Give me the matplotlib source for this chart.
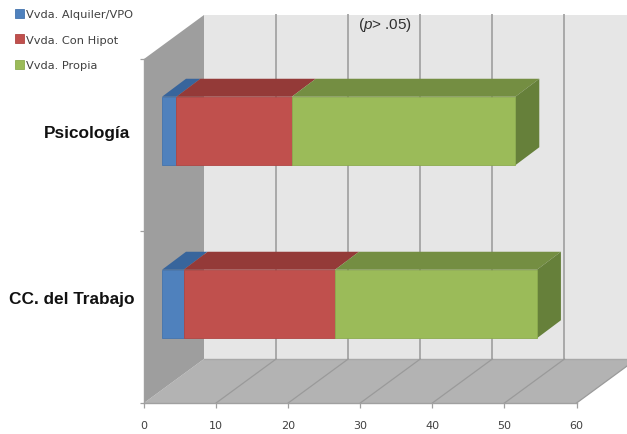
import matplotlib
matplotlib.use("Agg")
import matplotlib.pyplot as plt
from matplotlib.patches import Polygon
import matplotlib.transforms as mtrans
import numpy as np

categories = ["CC. del Trabajo", "Psicología"]
series_names = ["Vvda. Alquiler/VPO", "Vvda. Con Hipot", "Vvda. Propia"]
alquiler = [3, 2]
hipot = [21, 16]
propia = [28, 31]
x_ticks = [0, 10, 20, 30, 40, 50, 60]

front_colors = ["#4F81BD", "#C0504D", "#9BBB59"]
top_colors = ["#38659C", "#943A38", "#748E42"]
edge_colors = ["#4474AE", "#B04643", "#8CAC4E"]
side_color = "#66803A"

W, H = 627, 435
PX_X = 7.21   # pixels per value unit
PX_Y = 173.0  # pixels per category step
X0_PX, Y0_PX = 144, 305

plt.rcParams["mathtext.fontset"] = "custom"
plt.rcParams["mathtext.it"] = "Liberation Sans:italic"
plt.rcParams["mathtext.rm"] = "Liberation Sans"

fig = plt.figure(figsize=(W / 100, H / 100), dpi=100, facecolor="white")
ax = fig.add_axes([0, 0, 1, 1], facecolor="white")
ax.set_xlim(-X0_PX / PX_X, (W - X0_PX) / PX_X)
ax.set_ylim((Y0_PX - H) / PX_Y, Y0_PX / PX_Y)

# scene geometry, in data units
y_floor = (Y0_PX - 404) / PX_Y
y_top = (Y0_PX - 60) / PX_Y
dx, dy = 60 / PX_X, 44 / PX_Y          # wall depth
bdx, bdy = 24 / PX_X, 18 / PX_Y        # bar depth
bar_start = 18 / PX_X                  # bar gap from the front plane
bar_h = 68.5 / PX_Y
xmax = x_ticks[-1]

# back wall, floor, side wall
ax.add_patch(Polygon([(dx, y_floor + dy), (xmax + dx, y_floor + dy),
                      (xmax + dx, y_top + dy), (dx, y_top + dy)],
                     fc="#E6E6E6", ec="none", zorder=1))
ax.add_patch(Polygon([(0, y_floor), (xmax, y_floor), (xmax + dx, y_floor + dy), (dx, y_floor + dy)],
                     fc="#B3B3B3", ec="none", zorder=1))
ax.add_patch(Polygon([(0, y_floor), (dx, y_floor + dy), (dx, y_top + dy), (0, y_top)],
                     fc="#9E9E9E", ec="none", zorder=1))
ax.plot([dx, xmax + dx], [y_floor + dy] * 2, color="#A8A8A8", lw=1.0, zorder=2)

# grid on wall and floor
for v in x_ticks[1:]:
    ax.plot([v + dx, v + dx], [y_floor + dy, y_top + dy], color="#A9A9A9", lw=1.4, zorder=2)
    ax.plot([v, v + dx], [y_floor, y_floor + dy], color="#9A9A9A", lw=0.9, zorder=2)

# bars
y = np.arange(len(categories))
cum = np.zeros(len(categories)) + bar_start
handles = []
for vals, name, fc, tc, ec in zip([alquiler, hipot, propia], series_names,
                                  front_colors, top_colors, edge_colors):
    vals = np.array(vals, dtype=float)
    c = ax.barh(y, vals, left=cum, height=bar_h, color=fc, edgecolor=ec,
                linewidth=0.6, label=name, zorder=4)
    handles.append(c)
    for yi, l, v in zip(y, cum, vals):
        t = yi + bar_h / 2
        ax.add_patch(Polygon([(l, t), (l + v, t), (l + v + bdx, t + bdy), (l + bdx, t + bdy)],
                             fc=tc, ec="none", zorder=3))
    cum = cum + vals
for yi, r in zip(y, cum):
    t, b = yi + bar_h / 2, yi - bar_h / 2
    ax.add_patch(Polygon([(r, b), (r + bdx, b + bdy), (r + bdx, t + bdy), (r, t)],
                         fc=side_color, ec="none", zorder=3))

# axes
for s in ["top", "right"]:
    ax.spines[s].set_visible(False)
ax.spines["bottom"].set_position(("data", y_floor))
ax.spines["bottom"].set_bounds(0, xmax)
ax.spines["left"].set_position(("data", 0))
ax.spines["left"].set_bounds(y_floor, y_top)
for s in ["bottom", "left"]:
    ax.spines[s].set_color("#A0A0A0")
    ax.spines[s].set_linewidth(1.0)
    ax.spines[s].set_zorder(2.5)
ax.set_xticks(x_ticks)
ax.tick_params(axis="x", length=3.5, width=0.9, color="#A0A0A0", labelcolor="#404040",
               labelsize=8, pad=8.5)
ax.set_yticks(y, categories)
ax.set_yticks([y_floor, (y_floor + y_top) / 2, y_top], minor=True)
ax.tick_params(axis="y", which="minor", length=3, width=0.9, color="#A0A0A0")
ax.tick_params(axis="y", which="major", length=0, pad=7, labelsize=12.4)
for lab in ax.get_yticklabels():
    lab.set_family("Liberation Sans")
    lab.set_fontweight("bold")
    lab.set_color("#111111")
ax.yaxis.get_major_ticks()[1].set_pad(10)
# first category label sits slightly above its bar centre in the reference
ax.yaxis.get_major_ticks()[0].label1.set_verticalalignment("center_baseline")
ax.yaxis.get_major_ticks()[0].label1.set_transform(
    ax.yaxis.get_major_ticks()[0].label1.get_transform()
    + mtrans.ScaledTranslation(0, 7 / 100, fig.dpi_scale_trans))

ax.legend(handles=handles, loc="upper left", bbox_to_anchor=(15 / W, 1 - 10 / H), frameon=False,
          fontsize=8.2, labelcolor="#404040", handlelength=0.75, handleheight=0.85,
          handletextpad=0.2, labelspacing=1.3, borderpad=0, borderaxespad=0)

ax.text(385.5 / PX_X - X0_PX / PX_X, (Y0_PX - 25) / PX_Y, r"($\mathit{p}$> .05)",
        family="Liberation Sans", fontsize=11, color="#303030", ha="center", va="center", zorder=5)

fig.savefig("out.png", dpi=100)
